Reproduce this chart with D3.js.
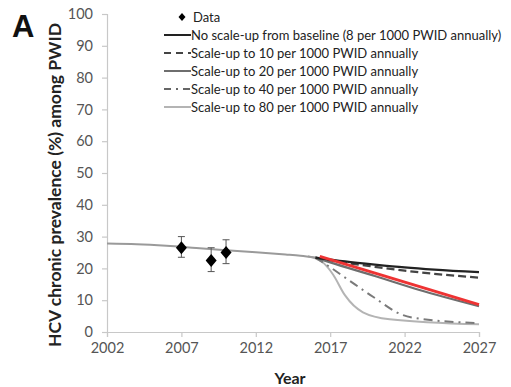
<!DOCTYPE html>
<html><head><meta charset="utf-8">
<script src="https://cdn.jsdelivr.net/npm/d3@7"></script>
<style>body{margin:0;background:#fff}svg{display:block}</style>
</head><body>
<script>
const xTicks = [2002, 2007, 2012, 2017, 2022, 2027];
const yTicks = [0, 10, 20, 30, 40, 50, 60, 70, 80, 90, 100];
const baseline = [[2002,27.8],[2004,27.6],[2006,27.1],[2008,26.4],[2010,25.7],[2012,25.1],[2014,24.4],[2015,24.0],[2016,23.4]];
const noScale = [[2016,23.4],[2018,22.2],[2020,21.2],[2022,20.3],[2024,19.6],[2027,18.8]];
const scale10 = [[2016,23.4],[2018,21.8],[2020,20.5],[2022,19.3],[2024,18.3],[2027,17.1]];
const scale20 = [[2016,23.4],[2017,21.9],[2020,17.6],[2023,13.2],[2027,8.1]];
const scale40 = [[2016,23.4],[2016.8,21.0],[2018.1,16.8],[2019.9,11.0],[2021.9,5.3],[2023,4.2],[2027,2.8]];
const scale80 = [[2015.5,23.8],[2016,23.2],[2016.6,21.5],[2017.2,18.0],[2018,11.5],[2019.2,6.2],[2021,4.0],[2027,2.4]];
const redLine = [[2016.3,23.8],[2027,8.6]];
const dataYears = [2007, 2009, 2010];
const dataVals = [26.5, 22.5, 25.0];
const dataLow = [23.5, 19.0, 21.5];
const dataHigh = [30.0, 26.5, 29.0];
const legendLabels = ["Data","No scale-up from baseline (8 per 1000 PWID annually)","Scale-up to 10 per 1000 PWID annually","Scale-up to 20 per 1000 PWID annually","Scale-up to 40 per 1000 PWID annually","Scale-up to 80 per 1000 PWID annually"];

const W = 511, H = 387;
const svg = d3.select("body").append("svg").attr("width", W).attr("height", H);
const font = "Lato, 'Open Sans', sans-serif";
const x = d3.scaleLinear().domain([2002, 2027]).range([107, 479]);
const y = d3.scaleLinear().domain([0, 100]).range([332, 14]);

// axes
const xAxis = svg.append("g").attr("transform", "translate(0,332)")
  .call(d3.axisBottom(x).tickValues(xTicks).tickFormat(d3.format("d")).tickSize(5).tickPadding(6));
const yAxis = svg.append("g").attr("transform", "translate(107,0)")
  .call(d3.axisLeft(y).tickValues(yTicks).tickSize(5).tickPadding(9));
[xAxis, yAxis].forEach(g => {
  g.selectAll("path,line").attr("stroke", "#c8c8c8").attr("stroke-width", 1.2);
  g.selectAll("text").attr("fill", "#555").style("font-family", font).style("font-size", "14.5px");
});

svg.append("text").attr("x", 290).attr("y", 384).attr("text-anchor", "middle")
  .style("font-family", font).style("font-weight", "bold").style("font-size", "16px").attr("fill", "#222").text("Year");
svg.append("text").attr("transform", "translate(61,185) rotate(-90)").attr("text-anchor", "middle")
  .style("font-family", font).style("font-weight", "bold").style("font-size", "17.5px").attr("fill", "#222")
  .text("HCV chronic prevalence (%) among PWID");
svg.append("text").attr("x", 12).attr("y", 37)
  .style("font-family", "Arial, sans-serif").style("font-weight", "bold").style("font-size", "31px").attr("fill", "#111").text("A");

const line = d3.line().x(d => x(d[0])).y(d => y(d[1])).curve(d3.curveMonotoneX);
const styles = [
  {d: scale80, stroke: "#b4b4b4", w: 2, dash: null},
  {d: scale40, stroke: "#7a7a7a", w: 2, dash: "9,5,2,5"},
  {d: scale20, stroke: "#6e6e6e", w: 2.2, dash: null},
  {d: scale10, stroke: "#444", w: 2.2, dash: "8,4"},
  {d: noScale, stroke: "#222", w: 2.2, dash: null},
  {d: baseline, stroke: "#9a9a9a", w: 2, dash: null}
];
styles.forEach(s => {
  svg.append("path").attr("d", line(s.d)).attr("fill", "none").attr("stroke", s.stroke)
    .attr("stroke-width", s.w).attr("stroke-dasharray", s.dash);
});
svg.append("path").attr("d", d3.line().x(d => x(d[0])).y(d => y(d[1]))(redLine))
  .attr("fill", "none").attr("stroke", "#ee3333").attr("stroke-width", 3);

// data points
const diamond = (w, h) => `M0,${-h/2}L${w/2},0L0,${h/2}L${-w/2},0Z`;
dataYears.forEach((yr, i) => {
  const cx = x(yr);
  svg.append("line").attr("x1", cx).attr("x2", cx).attr("y1", y(dataLow[i])).attr("y2", y(dataHigh[i])).attr("stroke", "#555").attr("stroke-width", 1);
  [dataLow[i], dataHigh[i]].forEach(v => svg.append("line").attr("x1", cx-3.5).attr("x2", cx+3.5).attr("y1", y(v)).attr("y2", y(v)).attr("stroke", "#555").attr("stroke-width", 1));
  svg.append("path").attr("d", diamond(11, 13)).attr("transform", `translate(${cx},${y(dataVals[i])})`).attr("fill", "#000");
});

// legend
const lg = svg.append("g");
const legStyles = [null,
  {stroke: "#222", dash: null}, {stroke: "#444", dash: "7,5"}, {stroke: "#6e6e6e", dash: null},
  {stroke: "#666", dash: "7,5,2,5"}, {stroke: "#b4b4b4", dash: null}];
legendLabels.forEach((t, i) => {
  const yy = 17 + i * 18;
  if (i === 0) {
    lg.append("path").attr("d", diamond(7, 8)).attr("transform", `translate(182,${yy})`).attr("fill", "#000");
  } else {
    lg.append("line").attr("x1", 164).attr("x2", 191).attr("y1", yy).attr("y2", yy)
      .attr("stroke", legStyles[i].stroke).attr("stroke-width", 2).attr("stroke-dasharray", legStyles[i].dash);
  }
  lg.append("text").attr("x", i === 0 ? 193 : 191).attr("y", yy + 4.5).style("font-family", font)
    .style("font-size", "13px").attr("fill", "#222").text(t);
});
</script>
</body></html>
